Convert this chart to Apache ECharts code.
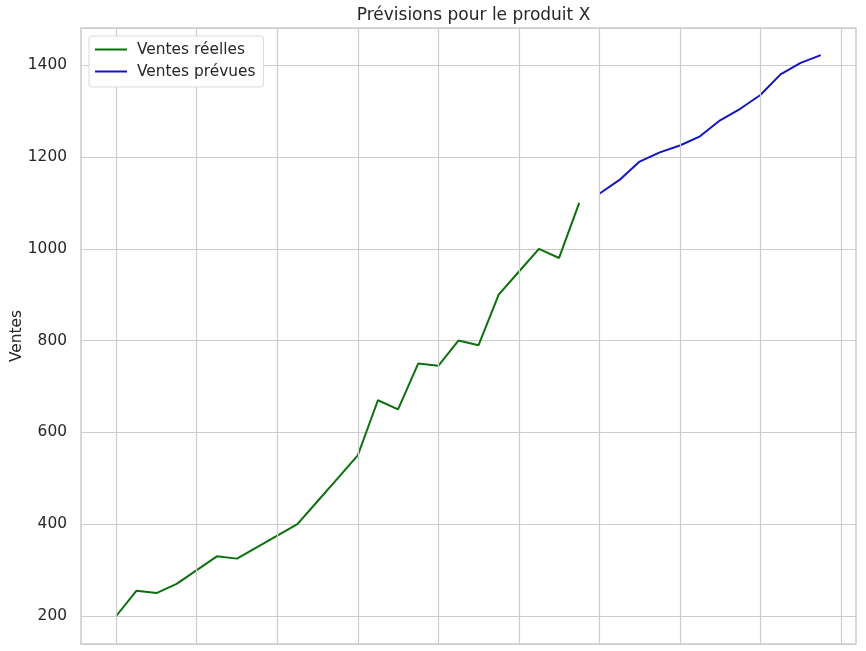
<!DOCTYPE html>
<html>
<head>
<meta charset="utf-8">
<script src="https://cdn.jsdelivr.net/npm/echarts@6/dist/echarts.min.js"></script>
<style>
  html, body { margin: 0; padding: 0; background: #fff; }
  #chart { width: 866px; height: 651px; }
</style>
</head>
<body>
<div id="chart"></div>
<script>
// valeurs
var ventesReelles = [200, 255, 250, 270, 300, 330, 325, 350, 375, 400, 450, 500,
                     550, 670, 650, 750, 745, 800, 790, 900, 950, 1000, 980, 1100];
var ventesPrevues = [1120, 1150, 1190, 1210, 1225, 1245, 1280, 1305, 1335, 1380, 1405, 1422];
var xTicks = [0, 4, 8, 12, 16, 20, 24, 28, 32, 36];
var nomsSeries = ['Ventes réelles', 'Ventes prévues'];

var reel = ventesReelles.map(function (v, i) { return [i, v]; });
var prevu = ventesPrevues.map(function (v, i) { return [ventesReelles.length + i, v]; });

var font = 'DejaVu Sans';
var gris = '#cccccc';
var texte = '#262626';

var chart = echarts.init(document.getElementById('chart'));
chart.setOption({
  animation: false,
  backgroundColor: '#ffffff',
  textStyle: { fontFamily: font },
  title: {
    text: 'Prévisions pour le produit X',
    left: 468.5, top: 2, textAlign: 'center',
    textStyle: { fontFamily: font, fontSize: 17, fontWeight: 'normal', color: texte }
  },
  grid: {
    left: 81, top: 28, right: 10, bottom: 7,
    outerBoundsMode: 'none', containLabel: false,
    show: true, borderColor: gris, borderWidth: 1.5, backgroundColor: '#fff'
  },
  legend: {
    data: nomsSeries,
    orient: 'vertical',
    left: 89, top: 36, z: 20,
    icon: 'rect', itemWidth: 32, itemHeight: 2, itemGap: 7,
    padding: [6, 8, 8, 6],
    borderColor: '#d9d9d9', borderWidth: 1, borderRadius: 3,
    backgroundColor: '#ffffff',
    textStyle: { fontFamily: font, fontSize: 15.4, color: texte, padding: [0, 0, 0, 5] }
  },
  xAxis: {
    type: 'value', min: -1.75, max: 36.75,
    axisLine: { show: false }, axisTick: { show: false },
    axisLabel: { show: false }, splitLine: { show: false }
  },
  yAxis: {
    type: 'value', min: 139, max: 1481, splitNumber: 6,
    name: 'Ventes', nameLocation: 'middle', nameGap: 57, nameMoveOverlap: false,
    nameTextStyle: { fontFamily: font, fontSize: 15.4, color: texte },
    axisLine: { show: false }, axisTick: { show: false },
    axisLabel: { fontFamily: font, fontSize: 15.4, color: texte, margin: 14,
                 showMinLabel: false, showMaxLabel: false,
                 formatter: function (v) { return String(v); } },
    splitLine: { lineStyle: { color: gris, width: 1.2 } }
  },
  series: [
    {
      type: 'line', data: [], z: 1, silent: true,
      markLine: {
        silent: true, symbol: ['none', 'none'], label: { show: false },
        lineStyle: { color: gris, width: 1.2, type: 'solid' },
        data: xTicks.map(function (t) { return { xAxis: t }; })
      }
    },
    {
      name: nomsSeries[0], type: 'line', data: reel, z: 3,
      showSymbol: false, lineStyle: { color: '#0d700d', width: 2 }, itemStyle: { color: '#0d700d' }
    },
    {
      name: nomsSeries[1], type: 'line', data: prevu, z: 3,
      showSymbol: false, lineStyle: { color: '#1414c0', width: 2 }, itemStyle: { color: '#1414c0' }
    }
  ]
});
</script>
</body>
</html>
